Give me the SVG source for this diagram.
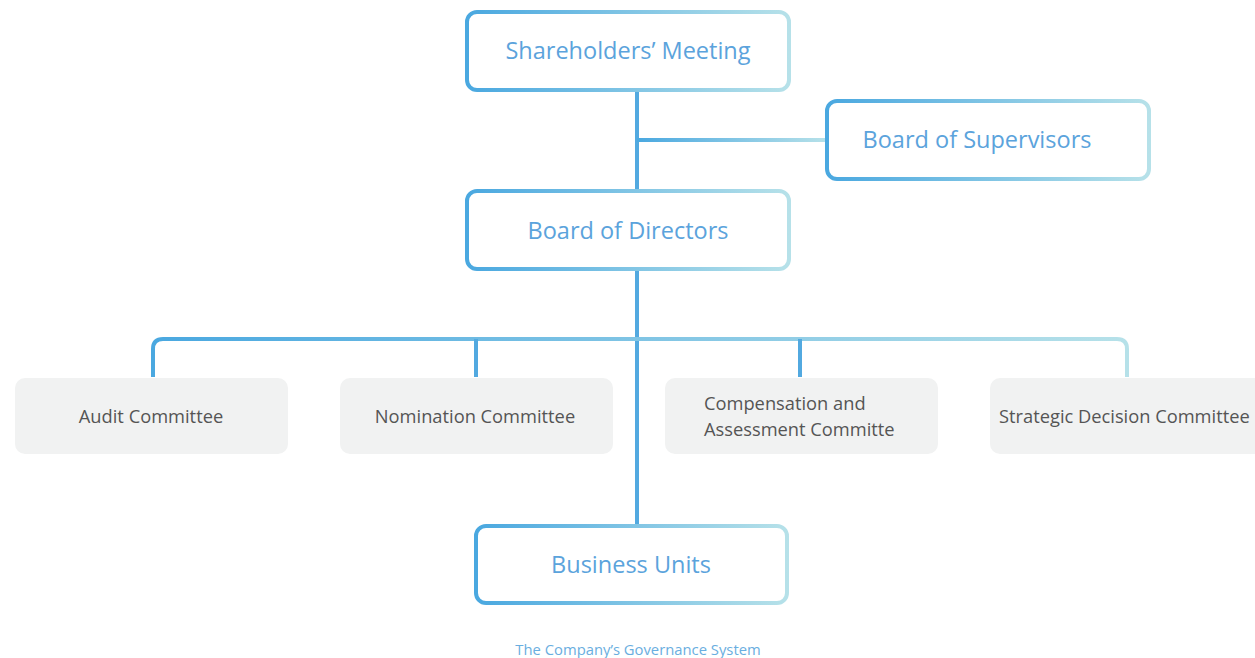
<svg xmlns="http://www.w3.org/2000/svg" width="1255" height="658" viewBox="0 0 1255 658">
<defs>
<linearGradient id="g" x1="0" y1="0" x2="1" y2="0">
<stop offset="0" stop-color="#4aa8e0"/>
<stop offset="1" stop-color="#b6e1e9"/>
</linearGradient>
<linearGradient id="gbus" gradientUnits="userSpaceOnUse" x1="153" y1="0" x2="1127" y2="0">
<stop offset="0" stop-color="#4aa8e0"/>
<stop offset="1" stop-color="#b6e1e9"/>
</linearGradient>
<style>
.main rect{fill:#fff;stroke:url(#g);stroke-width:4}
.main text{font-family:"Open Sans","DejaVu Sans",sans-serif;font-size:23.5px;fill:#5ba3dc;text-anchor:middle}
.com rect{fill:#f1f2f2}
.com text{font-family:"Open Sans","DejaVu Sans",sans-serif;font-size:18.3px;fill:#555}
.ln{fill:none;stroke:#52a9e0;stroke-width:4}
</style>
</defs>
<g id="connectors">
<line class="ln" x1="637" y1="90" x2="637" y2="191"/>
<line class="ln" x1="637" y1="269" x2="637" y2="526"/>
<rect x="637" y="138" width="190" height="4" fill="url(#g)"/>
<path d="M153,377 V349 Q153,339 163,339 H1117 Q1127,339 1127,349 V377" fill="none" stroke="url(#gbus)" stroke-width="4"/>
<line class="ln" x1="476" y1="339" x2="476" y2="377"/>
<line class="ln" x1="800" y1="339" x2="800" y2="377"/>
</g>
<g id="shareholders" class="main">
<rect x="467" y="12" width="322" height="78" rx="10"/>
<text x="628" y="59">Shareholders’ Meeting</text>
</g>
<g id="supervisors" class="main">
<rect x="827" y="101" width="322" height="78" rx="10"/>
<text x="977" y="148">Board of Supervisors</text>
</g>
<g id="directors" class="main">
<rect x="467" y="191" width="322" height="78" rx="10"/>
<text x="628" y="239">Board of Directors</text>
</g>
<g id="business" class="main">
<rect x="476" y="526" width="311" height="77" rx="10"/>
<text x="631" y="573">Business Units</text>
</g>
<g id="audit" class="com">
<rect x="15" y="378" width="273" height="76" rx="10"/>
<text x="151" y="423" text-anchor="middle">Audit Committee</text>
</g>
<g id="nomination" class="com">
<rect x="340" y="378" width="273" height="76" rx="10"/>
<text x="475" y="423" text-anchor="middle">Nomination Committee</text>
</g>
<g id="compensation" class="com">
<rect x="665" y="378" width="273" height="76" rx="10"/>
<text x="704" y="410">Compensation and</text>
<text x="704" y="436">Assessment Committe</text>
</g>
<g id="strategic" class="com">
<rect x="990" y="378" width="280" height="76" rx="10"/>
<text x="999" y="423">Strategic Decision Committee</text>
</g>
<text x="638" y="655" font-family="'Open Sans','DejaVu Sans',sans-serif" font-size="14.8" fill="#6aaee0" text-anchor="middle">The Company’s Governance System</text>
</svg>
